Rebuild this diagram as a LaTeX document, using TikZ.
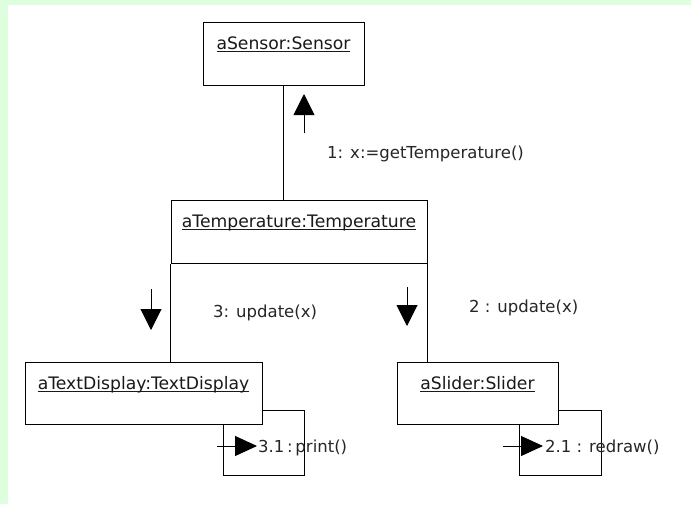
\documentclass[tikz,border=0pt]{standalone}
\usepackage{fontspec}
\setmainfont{DejaVu Sans}
\usetikzlibrary{arrows.meta}
\definecolor{bggreen}{RGB}{222,255,222}
\newcommand{\objul}[1]{\setbox0=\hbox{#1}\rlap{\rule[-2.5pt]{\wd0}{1pt}}\box0}
\tikzstyle{object}=[draw,rectangle,line width=1pt,inner sep=0pt]
\tikzstyle{objname}=[anchor=base,inner sep=0pt,text=black!90,font=\fontsize{17.2}{20}\selectfont]
\tikzstyle{msglabel}=[anchor=base west,inner sep=0pt,text=black!85,font=\fontsize{16.5}{20}\selectfont]
\tikzstyle{msg}=[line width=1pt,-{Triangle[length=21pt,width=21pt]}]
\tikzstyle{selfmsg}=[line width=1pt,-{Triangle[length=22pt,width=20pt]}]

\begin{document}
\begin{tikzpicture}[x=1pt,y=-1pt]
    \useasboundingbox (0,0) rectangle (691,504);
    \fill[bggreen] (0,0) rectangle (691,504);
    \fill[white] (8,5) rectangle (691,504);

    % objects
    \node[object,minimum width=161pt,minimum height=63pt] (sensor) at (283.5,53.5) {};
    \node[object,minimum width=256pt,minimum height=63pt] (temp)   at (299,231.5)  {};
    \node[object,minimum width=237pt,minimum height=62pt] (tdisp)  at (143.5,393)  {};
    \node[object,minimum width=161pt,minimum height=62pt] (slider) at (477.5,393)  {};

    \node[objname] (sensorname) at (283.5,49) {\objul{aSensor:Sensor}};
    \node[objname] (tempname)   at (299,227)  {\objul{aTemperature:Temperature}};
    \node[objname] (tdispname)  at (143.5,389) {\objul{aTextDisplay:TextDisplay}};
    \node[objname] (slidername) at (477.5,389) {\objul{aSlider:Slider}};

    % links
    \draw[line width=1pt] (sensor.south) -- (sensor.south |- temp.north);
    \foreach \from/\to in {temp.south west/tdisp.north, temp.south east/slider.north}
    \draw[line width=1pt] (\from) -- (\from |- \to);

    % self links
    \coordinate (tl1) at (304,410);
    \coordinate (tl2) at (223,475);
    \coordinate (sl1) at (601,410);
    \coordinate (sl2) at (519,475);
    \draw[line width=1pt] (tdisp.east |- tl1) -- (tl1) |- (tl2) -- (tl2 |- tdisp.south);
    \draw[line width=1pt] (slider.east |- sl1) -- (sl1) |- (sl2) -- (sl2 |- slider.south);

    % messages
    \coordinate (m1a) at (304,133); \coordinate (m1b) at (304,94);
    \coordinate (m3a) at (151,289); \coordinate (m3b) at (151,330);
    \coordinate (m2a) at (407,287); \coordinate (m2b) at (407,326);
    \coordinate (m31a) at (217,446); \coordinate (m31b) at (257,446);
    \coordinate (m21a) at (503,446); \coordinate (m21b) at (543,446);
    \foreach \from/\to in {m1a/m1b,m3a/m3b,m2a/m2b}
    \draw[msg] (\from) -- (\to);
    \foreach \from/\to in {m31a/m31b,m21a/m21b}
    \draw[selfmsg] (\from) -- (\to);

    \node[msglabel] (m1label)  at (327,158) {1: x:=getTemperature()};
    \node[msglabel] (m3label)  at (213,317) {3: update(x)};
    \node[msglabel] (m2label)  at (469,312) {2 : update(x)};
    \node[msglabel] (m31label) at (258,452) {3.1\,:\,print()};
    \node[msglabel] (m21label) at (545,452) {2.1 : redraw()};
\end{tikzpicture}
\end{document}
